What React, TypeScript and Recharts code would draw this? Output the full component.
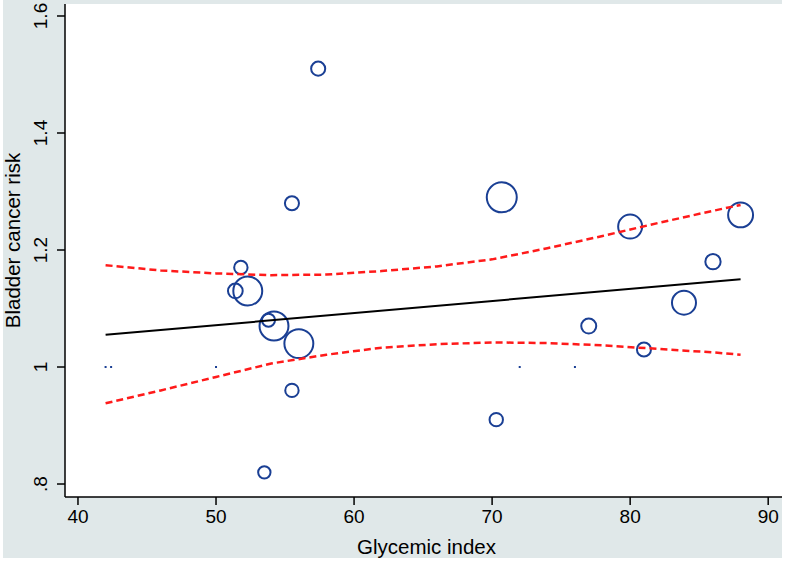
import { CartesianGrid, Scatter, ScatterChart, XAxis, YAxis, ZAxis } from "recharts";

// study estimates (glycemic index vs relative risk), weight drives bubble area
const studyGI = [57.4, 70.7, 55.5, 80.0, 88.0, 51.8, 51.4, 52.3, 86.0, 77.0, 83.9, 81.0, 70.3, 53.8, 54.2, 56.0, 55.5, 53.5];
const studyRisk = [1.51, 1.29, 1.28, 1.24, 1.26, 1.17, 1.13, 1.13, 1.18, 1.07, 1.11, 1.03, 0.91, 1.08, 1.07, 1.04, 0.96, 0.82];
const studyWeight = [22, 100, 22, 64, 69, 20, 24, 93, 26, 25, 64, 22, 20, 19, 93, 93, 20, 17];

// zero-weight reference points
const refGI = [42.0, 42.4, 50.0, 72.0, 76.0];
const refRisk = [1, 1, 1, 1, 1];

// fitted meta-regression line
const fitGI = [42, 88];
const fitRisk = [1.055, 1.15];

// 95% confidence band
const bandGI = [42, 46, 50, 54, 58, 62, 66, 70, 74, 78, 82, 86, 88];
const bandUpper = [1.174, 1.165, 1.16, 1.157, 1.158, 1.164, 1.172, 1.184, 1.203, 1.224, 1.246, 1.267, 1.277];
const bandLower = [0.938, 0.96, 0.983, 1.006, 1.021, 1.033, 1.039, 1.042, 1.041, 1.037, 1.031, 1.025, 1.021];

const xTicks = [40, 50, 60, 70, 80, 90];
const yTicks = [0.8, 1, 1.2, 1.4, 1.6];

const studies = studyGI.map((x, i) => ({ x, y: studyRisk[i], w: studyWeight[i] }));
const refs = refGI.map((x, i) => ({ x, y: refRisk[i] }));
const fit = fitGI.map((x, i) => ({ x, y: fitRisk[i] }));
const upper = bandGI.map((x, i) => ({ x, y: bandUpper[i] }));
const lower = bandGI.map((x, i) => ({ x, y: bandLower[i] }));

const FONT = "'Liberation Sans', Arial, sans-serif";
const BLUE = "#1a3f94";
const RED = "#ff1a1a";

const fmtY = (v: number) => String(v).replace(/^0/, "");

function YTick(props: any) {
  const { x, y, payload } = props;
  return (
    <text
      x={x}
      y={y}
      transform={`rotate(-90, ${x}, ${y})`}
      textAnchor="middle"
      fontSize={19}
      fontFamily={FONT}
      fill="#000"
    >
      {fmtY(payload.value)}
    </text>
  );
}

const hidden = () => <g />;
const tinyDot = (p: any) => <rect x={p.cx - 1} y={p.cy - 1} width={2} height={2} fill={BLUE} />;

export default function App() {
  return (
    <div style={{ position: "absolute", left: 0, top: 0, width: 785, height: 562, background: "#fff" }}>
      <div style={{ position: "absolute", left: 3, top: 0, width: 779, height: 558, background: "#e0e8e9" }} />
      <div style={{ position: "absolute", left: 0, top: 0 }}>
        <ScatterChart width={785} height={562} margin={{ top: 4, right: 3, bottom: 0, left: 0 }}>
          <CartesianGrid fill="#fff" horizontal={false} vertical={false} />
          <XAxis
            type="number"
            dataKey="x"
            domain={[39.06, 91.0]}
            allowDataOverflow
            ticks={xTicks}
            height={65}
            tickSize={8}
            tickMargin={5}
            axisLine={{ stroke: "#000", strokeWidth: 1.5 }}
            tickLine={{ stroke: "#000", strokeWidth: 1.5 }}
            tick={{ fontSize: 19, fontFamily: FONT, fill: "#000" }}
            label={{
              content: (p: any) => (
                <text
                  x={p.viewBox.x + p.viewBox.width / 2 + 3}
                  y={554}
                  textAnchor="middle"
                  fontSize={20.5}
                  fontFamily={FONT}
                  fill="#000"
                >
                  Glycemic index
                </text>
              ),
            }}
          />
          <YAxis
            type="number"
            dataKey="y"
            domain={[0.7778, 1.6205]}
            allowDataOverflow
            ticks={yTicks}
            width={65}
            tickSize={8}
            tickMargin={10}
            axisLine={{ stroke: "#000", strokeWidth: 1.5 }}
            tickLine={{ stroke: "#000", strokeWidth: 1.5 }}
            tick={<YTick />}
            label={{
              content: (p: any) => {
                const cy = p.viewBox.y + p.viewBox.height / 2 - 10;
                return (
                  <text
                    x={20}
                    y={cy}
                    transform={`rotate(-90, 20, ${cy})`}
                    textAnchor="middle"
                    fontSize={20.5}
                    fontFamily={FONT}
                    fill="#000"
                  >
                    Bladder cancer risk
                  </text>
                );
              },
            }}
          />
          <ZAxis type="number" dataKey="w" domain={[0, 100]} range={[0, 707]} />
          <Scatter
            data={studies}
            shape="circle"
            fill="none"
            stroke={BLUE}
            strokeWidth={2}
            isAnimationActive={false}
          />
          <Scatter data={refs} shape={tinyDot} isAnimationActive={false} />
          <Scatter
            data={upper}
            shape={hidden}
            line={{ stroke: RED, strokeWidth: 2.5, strokeDasharray: "7 4" }}
            isAnimationActive={false}
          />
          <Scatter
            data={lower}
            shape={hidden}
            line={{ stroke: RED, strokeWidth: 2.5, strokeDasharray: "7 4" }}
            isAnimationActive={false}
          />
          <Scatter
            data={fit}
            shape={hidden}
            line={{ stroke: "#000", strokeWidth: 2 }}
            isAnimationActive={false}
          />
        </ScatterChart>
      </div>
    </div>
  );
}
